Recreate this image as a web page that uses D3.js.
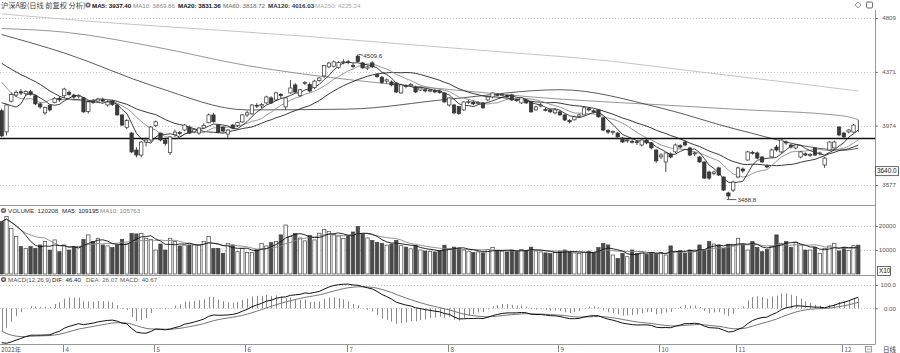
<!DOCTYPE html>
<html>
<head>
<meta charset="utf-8">
<title>沪深A股 日线</title>
<script src="https://cdn.jsdelivr.net/npm/d3@7/dist/d3.min.js"></script>
<style>
  body { margin: 0; background: #fff; }
  svg { display: block; font-family: "Liberation Sans", Arial, sans-serif; }
  .cjk { font-family: "Noto Sans CJK SC", "Liberation Sans", sans-serif; }
</style>
</head>
<body>
<div class="container"></div>
<script>
// trading days shown on the chart (2022)
const dates = [
  "03-15","03-16","03-17","03-18","03-21","03-22","03-23","03-24","03-25","03-28","03-29","03-30","03-31",
  "04-01","04-06","04-07","04-08","04-11","04-12","04-13","04-14","04-15","04-18","04-19","04-20","04-21","04-22","04-25","04-26","04-27","04-28","04-29",
  "05-05","05-06","05-09","05-10","05-11","05-12","05-13","05-16","05-17","05-18","05-19","05-20","05-23","05-24","05-25","05-26","05-27","05-30","05-31",
  "06-01","06-02","06-06","06-07","06-08","06-09","06-10","06-13","06-14","06-15","06-16","06-17","06-20","06-21","06-22","06-23","06-24","06-27","06-28","06-29","06-30",
  "07-01","07-04","07-05","07-06","07-07","07-08","07-11","07-12","07-13","07-14","07-15","07-18","07-19","07-20","07-21","07-22","07-25","07-26","07-27","07-28","07-29",
  "08-01","08-02","08-03","08-04","08-05","08-08","08-09","08-10","08-11","08-12","08-15","08-16","08-17","08-18","08-19","08-22","08-23","08-24","08-25","08-26","08-29","08-30","08-31",
  "09-01","09-02","09-05","09-06","09-07","09-08","09-09","09-13","09-14","09-15","09-16","09-19","09-20","09-21","09-22","09-23","09-26","09-27","09-28","09-29","09-30",
  "10-10","10-11","10-12","10-13","10-14","10-17","10-18","10-19","10-20","10-21","10-24","10-25","10-26","10-27","10-28","10-31",
  "11-01","11-02","11-03","11-04","11-07","11-08","11-09","11-10","11-11","11-14","11-15","11-16","11-17","11-18","11-21","11-22","11-23","11-24","11-25","11-28","11-29","11-30",
  "12-01","12-02","12-05","12-06"
];

const open = [
  4080,3930,4150,4195,4220,4205,4220,4190,4130,4065,4120,4140,4172,
  4190,4215,4195,4185,4175,4075,4150,4150,4160,4122,4150,4122,4050,3960,3922,3806,3772,3860,3874,
  3975,3922,3874,3790,3910,3925,3943,3964,3930,3922,3957,3994,4050,3978,3964,3915,3978,3975,4000,
  4050,4058,4120,4115,4137,4174,4159,4200,4108,4211,4271,4190,4285,4275,4250,4305,4340,4410,4415,4405,4445,
  4450,4420,4495,4441,4400,4441,4350,4330,4300,4294,4286,4211,4265,4265,4256,4233,4235,4225,4230,4225,4211,
  4122,4122,4110,4086,4140,4144,4135,4137,4159,4181,4200,4195,4190,4196,4160,4137,4159,4144,4086,4115,4090,4086,4065,
  4072,4050,4010,4015,4040,4050,4095,4080,4086,4029,3940,3925,3922,3888,3870,3865,3862,3840,3874,3854,3806,
  3760,3726,3780,3793,3835,3860,3820,3780,3759,3726,3660,3650,3687,3628,3527,3545,
  3628,3680,3739,3790,3786,3759,3700,3760,3826,3793,3860,3840,3820,3759,3780,3770,3820,3780,3706,3806,3820,
  3964,3922,3930,3929
];
const high = [
  4095,4130,4215,4230,4240,4230,4235,4200,4140,4110,4125,4180,4185,
  4250,4230,4205,4200,4180,4150,4165,4175,4175,4155,4160,4130,4055,4020,3930,3825,3865,3890,3970,
  4010,3925,3885,3900,3945,3935,3985,3975,3955,3962,3990,4060,4065,3985,3970,3950,3985,4000,4055,
  4080,4128,4135,4135,4190,4185,4220,4210,4180,4309,4285,4240,4300,4290,4310,4330,4425,4450,4460,4455,4470,
  4465,4440,4509.6,4450,4420,4455,4360,4340,4320,4305,4290,4280,4275,4285,4265,4255,4245,4240,4240,4235,4215,
  4180,4130,4115,4150,4160,4155,4150,4145,4190,4215,4210,4210,4200,4205,4170,4180,4165,4150,4115,4135,4100,4095,4095,
  4080,4055,4020,4045,4060,4105,4105,4090,4090,4035,3950,3940,3930,3895,3885,3880,3870,3880,3880,3860,3810,
  3785,3790,3790,3850,3845,3870,3825,3795,3765,3730,3670,3670,3695,3632,3535,3605,
  3695,3690,3800,3800,3795,3765,3710,3815,3840,3880,3870,3850,3845,3800,3790,3785,3825,3795,3760,3865,3870,
  3970,3930,3950,3985,4014
].slice(0, 179);
const low = [
  3895,3905,4140,4180,4195,4190,4190,4120,4095,4050,4075,4135,4145,
  4175,4190,4165,4170,4065,4060,4130,4140,4140,4110,4115,4045,3970,3950,3785,3757,3757,3830,3860,
  3965,3865,3835,3772,3895,3905,3935,3915,3920,3910,3950,3990,3995,3920,3925,3888,3950,3965,3995,
  4035,4050,4100,4100,4130,4130,4150,4170,4086,4205,4210,4180,4270,4215,4240,4295,4325,4400,4405,4395,4430,
  4430,4400,4445,4395,4385,4400,4325,4280,4280,4260,4210,4205,4245,4260,4210,4225,4215,4215,4210,4205,4140,
  4110,4055,4050,4080,4130,4120,4125,4095,4150,4170,4185,4185,4175,4150,4145,4130,4130,4065,4080,4105,4075,4065,4055,
  4045,4005,3990,4010,4030,4045,4075,4060,4030,3935,3915,3910,3890,3855,3855,3850,3840,3830,3845,3810,3720,
  3745,3660,3750,3785,3815,3830,3765,3765,3720,3615,3610,3640,3635,3540,3488.8,3533,
  3620,3655,3735,3775,3745,3720,3685,3755,3795,3785,3840,3815,3810,3750,3765,3760,3765,3770,3687,3800,3815,
  3900,3885,3920,3925,3929
].slice(0, 179);
const close = [
  3902,4122,4200,4215,4210,4222,4200,4130,4108,4105,4086,4170,4160,
  4240,4200,4180,4190,4072,4144,4140,4165,4150,4144,4125,4050,3978,4010,3793,3772,3860,3874,3964,
  4001,3874,3850,3895,3929,3920,3978,3922,3945,3957,3975,4050,4001,3929,3936,3943,3957,3995,4050,
  4065,4122,4115,4125,4181,4137,4211,4190,4174,4248,4218,4235,4290,4225,4300,4324,4420,4440,4449,4445,4450,
  4448,4415,4452,4402,4410,4410,4335,4290,4310,4271,4218,4271,4262,4275,4218,4248,4226,4232,4218,4215,4144,
  4174,4065,4060,4144,4148,4130,4140,4101,4181,4211,4196,4200,4181,4159,4155,4174,4137,4072,4108,4122,4086,4072,4086,
  4050,4014,4001,4036,4050,4101,4086,4072,4036,3943,3929,3932,3895,3860,3874,3860,3858,3874,3854,3820,3733,
  3772,3786,3759,3840,3826,3840,3772,3786,3726,3621,3621,3660,3641,3545,3508,3596,
  3687,3667,3793,3786,3752,3726,3693,3806,3806,3874,3854,3826,3840,3793,3772,3776,3772,3786,3752,3860,3860,
  3909,3895,3943,3978,3994
].slice(0, 179);
const volume = [
  218000,239000,190000,156000,114000,107000,114000,107000,121000,135000,
  100000,142000,93000,121000,100000,114000,114000,144000,163000,135000,
  149000,121000,117000,111000,121000,144000,125000,169000,167000,169000,
  149000,144000,100000,125000,100000,149000,135000,117000,121000,121000,
  121000,121000,135000,156000,107000,107000,86000,128000,121000,93000,
  107000,89000,89000,103000,128000,117000,131000,135000,163000,204000,
  156000,169000,
  150000,138000,160000,142000,170000,185000,178000,165000,158000,148000,160000,
  175000,198000,165000,150000,140000,132000,128000,120000,125000,140000,118000,
  112000,105000,118000,100000,96000,95000,92000,98000,120000,105000,112000,
  108000,100000,95000,90000,92000,88000,102000,110000,98000,95000,92000,
  100000,95000,102000,98000,112000,96000,92000,88000,85000,90000,95000,
  100000,92000,88000,85000,90000,95000,88000,110000,
  128000,121000,79000,65000,86000,72000,100000,86000,93000,82000,
  89000,86000,89000,79000,117000,93000,97000,86000,100000,100000,
  121000,100000,135000,125000,121000,107000,124000,124000,149000,125000,
  100000,135000,111000,93000,103000,114000,163000,128000,135000,111000,
  131000,121000,100000,100000,111000,86000,107000,117000,128000,96000,
  111000,98000,118000,120208
];
// closes of the 19 sessions before 03-15, only used to start the short averages
const priorCloses = [4620,4630,4650,4620,4560,4580,4490,4530,4580,4590,4560,4560,4500,4370,4240,4170,4260,4265,4094];
// EMA12, EMA26, DEA carried in from before the first session
const macdSeed = [4360, 4480, -85];

// long averages (session index, value)
const ma60Days = [0, 13, 32, 51, 72, 93, 116, 137, 153, 175, 178];
const ma60Vals = [4670, 4520, 4257, 4086, 4092, 4165, 4235, 4100, 3945, 3805, 3818.72];
const ma120Days = [0, 13, 32, 51, 72, 93, 116, 137, 153, 175, 178];
const ma120Vals = [4720, 4690, 4568, 4420, 4312, 4237, 4165, 4123, 4090, 4042, 4016.03];
const ma250Days = [0, 20, 41, 62, 83, 104, 124, 145, 166, 178];
const ma250Vals = [4844, 4776, 4717, 4659, 4593, 4528, 4465, 4371, 4279, 4225.24];

const priceTicks = [4809, 4371, 3974, 3577];
const volTicks = [200000, 100000];
const macdTicks = [100, 0];
const drawnLine = 3888;
const markPrice = 3640.0;

const mainLegend = ["MA5: 3937.40", "MA10: 3869.86", "MA20: 3831.36", "MA60: 3818.72", "MA120: 4016.03", "MA250: 4225.24"];
const volLegend = ["VOLUME: 120208", "MA5: 109195", "MA10: 105763"];
const macdLegend = ["MACD(12,26,9)", "DIF: 46.40", "DEA: 26.07", "MACD: 40.67"];

const n = close.length;
const W = 900, H = 353, axisX = 875;

const svg = d3.select(".container").append("svg").attr("width", W).attr("height", H);

const x = d3.scaleBand().domain(d3.range(n)).range([0, 860]).paddingInner(0.3);
const cx = (i) => x(i) + x.bandwidth() / 2;
const yMain = d3.scaleLog().domain([3577, 4809]).range([185, 18]);
const yVol = d3.scaleLinear().domain([0, 200000]).range([274, 226]);
const yMacd = d3.scaleLinear().domain([0, 100]).range([308.3, 285]);

// clip areas for the three panels
const defs = svg.append("defs");
[["cMain", 10, 205], ["cVol", 206, 275], ["cMacd", 282, 344]].forEach(([id, y0, y1]) => {
  defs.append("clipPath").attr("id", id).append("rect").attr("x", 0).attr("y", y0).attr("width", axisX).attr("height", y1 - y0);
});

// dotted grid lines
const grid = svg.append("g").attr("stroke", "#bbb").attr("stroke-dasharray", "1,2").attr("stroke-width", 0.8);
grid.selectAll(".gp").data(priceTicks).enter().append("line")
  .attr("x1", 0).attr("x2", axisX).attr("y1", (d) => Math.round(yMain(d)) + 0.5).attr("y2", (d) => Math.round(yMain(d)) + 0.5);
grid.selectAll(".gv").data(volTicks).enter().append("line")
  .attr("x1", 0).attr("x2", axisX).attr("y1", (d) => Math.round(yVol(d)) + 0.5).attr("y2", (d) => Math.round(yVol(d)) + 0.5);
grid.selectAll(".gm").data(macdTicks).enter().append("line")
  .attr("x1", 0).attr("x2", axisX).attr("y1", (d) => Math.round(yMacd(d)) + 0.5).attr("y2", (d) => Math.round(yMacd(d)) + 0.5);

// panel frames
const frame = svg.append("g").attr("stroke", "#999").attr("stroke-width", 1);
[205.5, 275.5, 344.5].forEach((y) => frame.append("line").attr("x1", 0).attr("x2", axisX).attr("y1", y).attr("y2", y));
frame.append("line").attr("x1", axisX + 0.5).attr("x2", axisX + 0.5).attr("y1", 10).attr("y2", 344.5);

// ---------- main panel ----------
const main = svg.append("g").attr("clip-path", "url(#cMain)");

// long averages
const sampled = (days, vals) => days.map((d, k) => ({ i: d, v: vals[k] }));
const longLine = d3.line().x((d) => cx(d.i)).y((d) => yMain(d.v)).curve(d3.curveMonotoneX);
[[ma250Days, ma250Vals, "#bdbdbd"], [ma120Days, ma120Vals, "#8a8a8a"], [ma60Days, ma60Vals, "#4a4a4a"]].forEach(([d, v, c]) => {
  main.append("path").datum(sampled(d, v)).attr("d", longLine).attr("fill", "none").attr("stroke", c).attr("stroke-width", 0.9);
});

// short averages from closes
const allCloses = priorCloses.concat(close);
const off = priorCloses.length;
const movingAvg = (k) => close.map((c, i) => d3.mean(allCloses.slice(Math.max(0, i + off - k + 1), i + off + 1)));
const shortLine = d3.line().x((d, i) => cx(i)).y((d) => yMain(d));
[[20, "#222", 0.9], [10, "#8c8c8c", 0.9], [5, "#111", 0.8]].forEach(([k, c, w]) => {
  main.append("path").datum(movingAvg(k)).attr("d", shortLine).attr("fill", "none").attr("stroke", c).attr("stroke-width", w);
});

// reference line drawn on the chart
main.append("line").attr("x1", 0).attr("x2", axisX)
  .attr("y1", Math.round(yMain(drawnLine)) + 0.5).attr("y2", Math.round(yMain(drawnLine)) + 0.5)
  .attr("stroke", "#111").attr("stroke-width", 1.3);

// candles
const candle = main.selectAll(".candle").data(d3.range(n)).enter().append("g").attr("class", "candle");
candle.append("line")
  .attr("x1", (i) => cx(i)).attr("x2", (i) => cx(i))
  .attr("y1", (i) => yMain(high[i])).attr("y2", (i) => yMain(low[i]))
  .attr("stroke", "#333").attr("stroke-width", 0.9);
candle.append("rect")
  .attr("x", (i) => x(i))
  .attr("y", (i) => yMain(Math.max(open[i], close[i])))
  .attr("width", x.bandwidth())
  .attr("height", (i) => Math.max(0.9, Math.abs(yMain(open[i]) - yMain(close[i]))))
  .attr("fill", (i) => (close[i] >= open[i] ? "#fff" : "#3a3a3a"))
  .attr("stroke", "#333").attr("stroke-width", 0.7);

// high / low marks
const hi = d3.maxIndex(high), lo = d3.minIndex(low);
svg.append("line").attr("x1", cx(hi) + 1).attr("x2", cx(hi) + 5).attr("y1", yMain(high[hi])).attr("y2", yMain(high[hi]) + 1).attr("stroke", "#333").attr("stroke-width", 0.8);
svg.append("text").attr("x", cx(hi) + 5.5).attr("y", yMain(high[hi]) + 3.5).attr("font-size", 6.2).attr("fill", "#333").text(high[hi].toFixed(1));
svg.append("line").attr("x1", cx(lo) - 1.5).attr("x2", cx(lo) + 8).attr("y1", yMain(low[lo]) + 0.5).attr("y2", yMain(low[lo]) + 0.5).attr("stroke", "#333").attr("stroke-width", 0.8);
svg.append("text").attr("x", cx(lo) + 9).attr("y", yMain(low[lo]) + 2.5).attr("font-size", 6.2).attr("fill", "#333").text(low[lo].toFixed(1));

// ---------- volume panel ----------
const vol = svg.append("g").attr("clip-path", "url(#cVol)");
vol.selectAll(".vbar").data(d3.range(n)).enter().append("rect")
  .attr("x", (i) => x(i))
  .attr("y", (i) => yVol(volume[i]))
  .attr("width", x.bandwidth())
  .attr("height", (i) => yVol(0) - yVol(volume[i]))
  .attr("fill", (i) => (close[i] >= open[i] ? "#fff" : "#4a4a4a"))
  .attr("stroke", "#444").attr("stroke-width", 0.7);
const volAvg = (k) => volume.map((v, i) => d3.mean(volume.slice(Math.max(0, i - k + 1), i + 1)));
const volLine = d3.line().x((d, i) => cx(i)).y((d) => yVol(d));
vol.append("path").datum(volAvg(10)).attr("d", volLine).attr("fill", "none").attr("stroke", "#888").attr("stroke-width", 0.9);
vol.append("path").datum(volAvg(5)).attr("d", volLine).attr("fill", "none").attr("stroke", "#111").attr("stroke-width", 0.9);

// ---------- MACD panel ----------
let e12 = macdSeed[0], e26 = macdSeed[1], dea = macdSeed[2];
const dif = [], deaArr = [], hist = [];
close.forEach((c) => {
  e12 += (c - e12) * 2 / 13;
  e26 += (c - e26) * 2 / 27;
  const d = e12 - e26;
  dea += (d - dea) * 2 / 10;
  dif.push(d); deaArr.push(dea); hist.push(2 * (d - dea));
});
const macd = svg.append("g").attr("clip-path", "url(#cMacd)");
macd.selectAll(".hbar").data(hist).enter().append("line")
  .attr("x1", (d, i) => Math.round(cx(i)) + 0.5).attr("x2", (d, i) => Math.round(cx(i)) + 0.5)
  .attr("y1", yMacd(0)).attr("y2", (d) => yMacd(d))
  .attr("stroke", "#8a8a8a").attr("stroke-width", 1);
const macdLine = d3.line().x((d, i) => cx(i)).y((d) => yMacd(d));
macd.append("path").datum(deaArr).attr("d", macdLine).attr("fill", "none").attr("stroke", "#666").attr("stroke-width", 0.9);
macd.append("path").datum(dif).attr("d", macdLine).attr("fill", "none").attr("stroke", "#111").attr("stroke-width", 1);

// ---------- right axes ----------
const styleAxis = (g) => {
  g.select(".domain").remove();
  g.selectAll(".tick line").attr("stroke", "#777");
  g.selectAll(".tick text").attr("fill", "#555").attr("font-size", 6.2)
    .attr("text-anchor", "end").attr("x", W - 4 - axisX);
};
svg.append("g").attr("transform", `translate(${axisX},0)`)
  .call(d3.axisRight(yMain).tickValues(priceTicks).tickFormat(d3.format("d")).tickSize(3)).call(styleAxis);
svg.append("g").attr("transform", `translate(${axisX},0)`)
  .call(d3.axisRight(yVol).tickValues(volTicks).tickFormat((d) => String(d / 10)).tickSize(3)).call(styleAxis);
svg.append("g").attr("transform", `translate(${axisX},0)`)
  .call(d3.axisRight(yMacd).tickValues(macdTicks).tickFormat((d) => (d === 0 ? "0.00" : d.toFixed(1))).tickSize(3)).call(styleAxis);

// boxed labels on the axis
const boxLabel = (text, xx, yc, w) => {
  svg.append("rect").attr("x", xx).attr("y", yc - 4.5).attr("width", w).attr("height", 9)
    .attr("fill", "#fff").attr("stroke", "#444").attr("stroke-width", 0.8);
  svg.append("text").attr("x", xx + 1.5).attr("y", yc + 2.3).attr("font-size", 6.4).attr("fill", "#111").text(text);
};
boxLabel(markPrice.toFixed(1), axisX + 0.5, yMain(markPrice) - 4, 23);
boxLabel("X10", axisX + 2.5, 271, 13);

// ---------- headers ----------
const txt = (xx, yy, s, opts = {}) => svg.append("text").attr("x", xx).attr("y", yy)
  .attr("font-size", opts.size || 6.2).attr("fill", opts.color || "#444")
  .attr("font-weight", opts.bold ? "bold" : null).attr("class", opts.cls || null).text(s);
const badge = (xx, yy) => {
  svg.append("circle").attr("cx", xx).attr("cy", yy).attr("r", 2.6).attr("fill", "#6a6a6a");
  svg.append("circle").attr("cx", xx).attr("cy", yy).attr("r", 1.1).attr("fill", "#ddd");
};

txt(1, 7.5, "沪深A股(日线 前复权 分析)", { size: 7.2, color: "#444", cls: "cjk" });
badge(88, 5);
const mainLegendX = [92, 133, 178, 223, 268, 315];
const mainLegendC = ["#111", "#888", "#111", "#666", "#333", "#aaa"];
mainLegend.forEach((s, k) => txt(mainLegendX[k], 7.5, s, { color: mainLegendC[k], bold: k % 2 === 0 }));

badge(3.5, 210.5);
const volLegendX = [8, 62, 100];
const volLegendC = ["#333", "#222", "#888"];
volLegend.forEach((s, k) => txt(volLegendX[k], 213, s, { color: volLegendC[k] }));

badge(3.5, 279.5);
const macdLegendX = [8, 52, 86, 120];
const macdLegendC = ["#555", "#222", "#666", "#555"];
macdLegend.forEach((s, k) => txt(macdLegendX[k], 282, s, { color: macdLegendC[k] }));

// top-right tool icons
svg.append("path").attr("d", "M858,2 L861,5 L858,8 L855,5 Z").attr("fill", "none").attr("stroke", "#777").attr("stroke-width", 0.8);
svg.append("rect").attr("x", 866.5).attr("y", 2).attr("width", 6).attr("height", 6).attr("rx", 1.2)
  .attr("fill", "none").attr("stroke", "#555").attr("stroke-width", 0.9);

// ---------- date axis ----------
const monthStarts = d3.range(n).filter((i) => i === 0 || dates[i].slice(0, 2) !== dates[i - 1].slice(0, 2));
const dateAxis = svg.append("g");
dateAxis.selectAll(".mt").data(monthStarts).enter().append("line")
  .attr("x1", (i) => Math.round(x(i)) + 0.5).attr("x2", (i) => Math.round(x(i)) + 0.5)
  .attr("y1", 345).attr("y2", 352).attr("stroke", (i) => (i === 0 ? "none" : "#888"));
dateAxis.selectAll(".ml").data(monthStarts).enter().append("text")
  .attr("x", (i) => (i === 0 ? 1 : Math.round(x(i)) + 2.5)).attr("y", 351.5)
  .attr("font-size", 6.2).attr("fill", "#555").attr("class", "cjk")
  .text((i) => (i === 0 ? "2022年" : String(+dates[i].slice(0, 2))));

svg.append("rect").attr("x", 865.5).attr("y", 346.5).attr("width", 6).attr("height", 5.5)
  .attr("fill", "#fff").attr("stroke", "#777").attr("stroke-width", 0.7);
svg.append("line").attr("x1", 867).attr("x2", 870.5).attr("y1", 349.3).attr("y2", 349.3).attr("stroke", "#777").attr("stroke-width", 0.7);
txt(883, 351.5, "日线", { size: 6.5, color: "#333", cls: "cjk" });
</script>
</body>
</html>
